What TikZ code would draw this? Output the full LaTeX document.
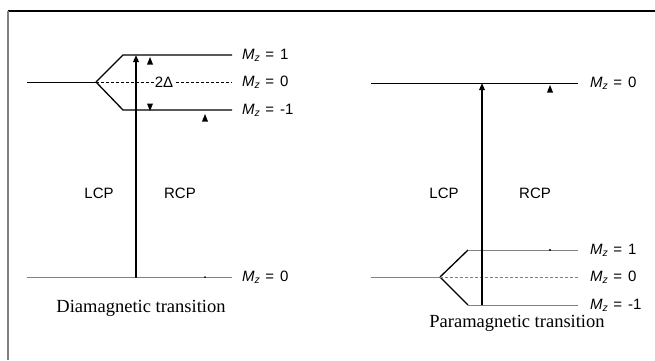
\documentclass[tikz,border=0pt]{standalone}
\usepackage{fontspec}
\setmainfont{Liberation Serif}
\setsansfont{Liberation Sans}
\usetikzlibrary{arrows.meta}

\newcommand{\mzlabel}[1]{{\itshape M}\textsubscript{\itshape z}\hspace{5pt}=\hspace{6pt}#1}

\begin{document}
\begin{tikzpicture}[x=1pt, y=-1pt,
    % energy levels
    level/.style={line width=1.3pt},
    thinlevel/.style={line width=0.8pt},
    faint/.style={gray, line width=0.9pt},
    split/.style={dash pattern=on 2.5pt off 2.5pt, line width=0.7pt},
    % transitions
    trans/.style={line width=1.5pt, -{Triangle[length=7pt, width=5.5pt]}},
    tip/.style={fill=black},
    mz/.style={anchor=west, inner sep=0pt, font=\sffamily\fontsize{15}{17}\selectfont},
    pol/.style={font=\sffamily\fontsize{15}{17}\selectfont},
    caption/.style={font=\fontsize{18.5}{20}\selectfont}
]
    \useasboundingbox (0,0) rectangle (655,360);

    % --- Frame ---
    \draw[line width=1.5pt] (8,11) -- (655,11);
    \draw[gray, line width=2pt] (8,11) -- (8,360);

    % --- Diamagnetic transition (left) ---
    \coordinate (Lfork) at (96,82);
    \coordinate (Lup) at (136,55);
    \coordinate (Lgnd) at (136,277);
    \draw[thinlevel] (27,82) -- (Lfork);
    \draw[level] (Lfork) -- (123,55) -- (232,55);
    \draw[level] (Lfork) -- (123,110) -- (232,110);
    \draw[split] (Lfork) -- (232,82);
    \draw[faint] (27,277) -- (232,277);

    \node[mz] (Lp1) at (242,55) {\mzlabel{1}};
    \node[mz] (L0) at (242,82) {\mzlabel{0}};
    \node[mz] (Lm1) at (242,110) {\mzlabel{-1}};
    \node[mz] (Lg0) at (242,277) {\mzlabel{0}};

    \node[fill=white, inner sep=1pt, font=\sffamily\fontsize{15}{17}\selectfont] (gap) at (164,82) {2Δ};

    \draw[trans] (Lgnd) -- (Lup);
    \node[pol] (Llcp) at (99,193) {LCP};
    \node[pol] (Lrcp) at (180,193) {RCP};

    \fill[tip] (150,57) -- ++(-3,7.5) -- ++(6,0) -- cycle;
    \fill[tip] (150,111) -- ++(-3,-7.5) -- ++(6,0) -- cycle;
    \fill[tip] (205,114) -- ++(-3,7.5) -- ++(6,0) -- cycle;
    \foreach \p in {(136,277), (205,277)}
        \fill \p circle (1pt);

    \node[caption] (Lcap) at (141,308) {Diamagnetic transition};

    % --- Paramagnetic transition (right) ---
    \coordinate (Rfork) at (440,277);
    \coordinate (Rup) at (482,83);
    \coordinate (Rgnd) at (482,305);
    \draw[thinlevel] (371,83) -- (578,83);
    \draw[faint] (371,277) -- (Rfork);
    \draw[level] (Rfork) -- (468,250);
    \draw[level] (Rfork) -- (468,305);
    \draw[faint] (468,250) -- (578,250);
    \draw[faint] (468,305) -- (578,305);
    \draw[split, gray] (Rfork) -- (578,277);

    \node[mz] (R0) at (590,83) {\mzlabel{0}};
    \node[mz] (Rp1) at (590,250) {\mzlabel{1}};
    \node[mz] (Rg0) at (590,277) {\mzlabel{0}};
    \node[mz] (Rm1) at (590,305) {\mzlabel{-1}};

    \draw[trans] (Rgnd) -- (Rup);
    \node[pol] (Rlcp) at (444,193) {LCP};
    \node[pol] (Rrcp) at (535,193) {RCP};

    \fill[tip] (550,85) -- ++(-3,7.5) -- ++(6,0) -- cycle;
    \foreach \p in {(482,250), (482,277), (550,250)}
        \fill \p circle (1.2pt);

    \node[caption] (Rcap) at (517,323) {Paramagnetic transition};

\end{tikzpicture}
\end{document}
